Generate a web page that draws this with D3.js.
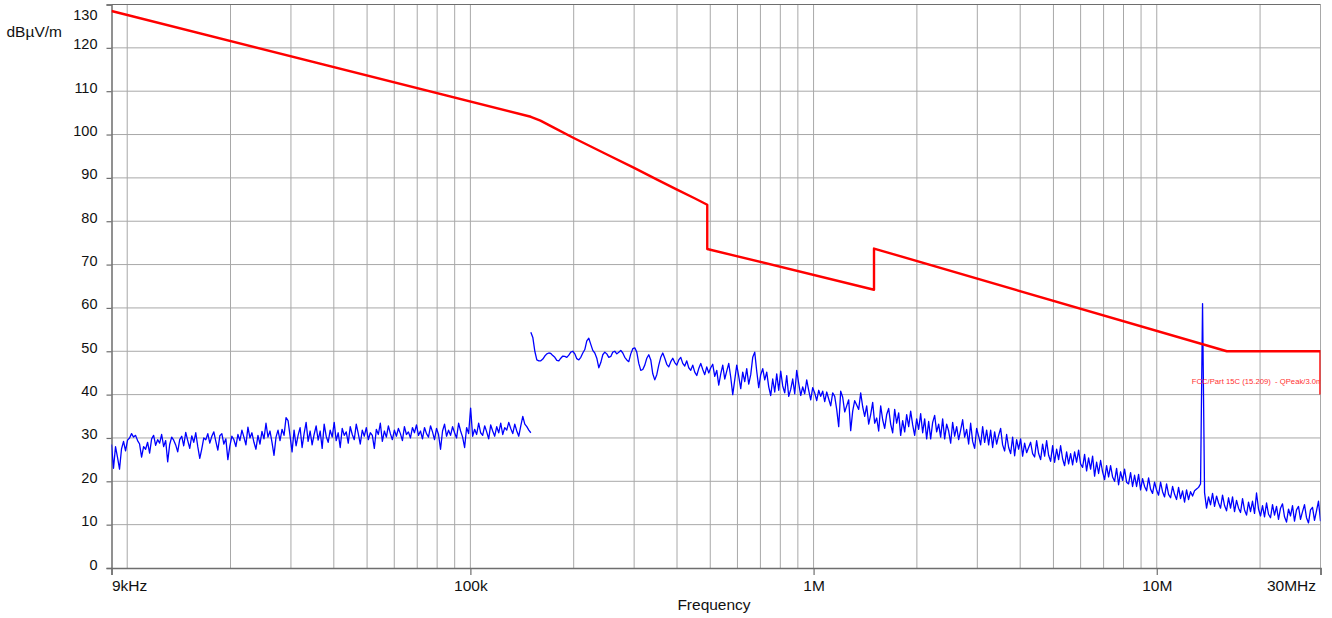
<!DOCTYPE html>
<html>
<head>
<meta charset="utf-8">
<script src="https://cdn.jsdelivr.net/npm/d3@7/dist/d3.min.js"></script>
<style>
  html, body { margin: 0; padding: 0; background: #ffffff; }
  svg { display: block; font-family: "Liberation Sans", Arial, sans-serif; }
</style>
</head>
<body>
<svg id="chart" width="1332" height="618"></svg>
<script>
// ---------------- DATA ----------------
const yTickValues = [0, 10, 20, 30, 40, 50, 60, 70, 80, 90, 100, 110, 120, 130];
const xTickValues = [9e3, 1e5, 1e6, 1e7, 3e7];
const xTickLabels = ["9kHz", "100k", "1M", "10M", "30MHz"];

// FCC Part 15.209 limit line (frequency in kHz, level in dBµV/m)
const limitFreqKHz = [9, 150, 160, 175, 200, 250, 300, 350, 400, 450, 490, 490, 1500, 1500, 16000, 30000, 30000];
const limitLevel   = [128.5, 104.1, 103.2, 101.6, 99.2, 95.4, 92.3, 89.6, 87.3, 85.3, 83.8, 73.6, 64.2, 73.7, 50, 50, 40];
const limitLabel = "FCC/Part 15C (15.209)  - QPeak/3.0m";

// Measured trace, sweep 1: 9 kHz .. 150 kHz (log-spaced sweep points)
const sweep1StartHz = 9e3, sweep1StopHz = 150e3;
const sweep1Level = [
  28.5, 23, 28, 25.5, 22.8, 27.5, 29.2, 27, 29.5, 30,
  31, 30.2, 30.6, 29.4, 28.6, 25.6, 28, 27.4, 29, 26.5,
  29.8, 30.6, 28.3, 29.6, 28.8, 30.8, 28, 29.4, 24.5, 28.5,
  30.2, 29.5, 28.4, 26.8, 29.6, 30.4, 28.2, 31.3, 29.4, 27.6,
  30.5, 29, 31.2, 28, 25.3, 27.5, 30, 29.6, 31, 28.8,
  30.4, 31.4, 29.2, 27.2, 30.5, 31, 28.6, 29.8, 25, 28.2,
  30.4, 29.6, 28, 30.8, 29.4, 31.8, 30.2, 28.4, 32.5, 30,
  31.2, 29, 27.4, 30.6, 28.6, 31.5, 29.8, 33.4, 30.2, 31.6,
  29, 26, 30.2, 31.8, 29.4, 32, 30.6, 34.7, 34, 30.5,
  26.8, 31.8, 28.2, 30.6, 32.4, 27.8, 31, 33.6, 29.2, 31.6,
  28.4, 30.8, 32.8, 29.5, 31.6, 27.6, 33.2, 30.4, 29, 31.8,
  30.2, 33.6, 29.4, 31.2, 27.8, 32.2, 30.6, 31.4, 28.8, 32.6,
  30.8, 29.6, 33.2, 31, 28.6, 31.8, 30.4, 32.4, 29.6, 31.2,
  30.6, 27.6, 32, 30.8, 33.4, 29.2, 31.6, 30.2, 32.8, 31,
  29.6, 31.8, 30.4, 32.2, 31, 29.4, 32.6, 30.8, 31.4, 30,
  32.4, 31.2, 33, 30.6, 31.6, 29.8, 32.4, 31, 30.2, 32.8,
  31.4, 29.6, 32.2, 30.8, 27.4, 31.6, 33.2, 30.4, 31.8, 30.6,
  32.6, 31.2, 30, 33.4, 31.6, 30.2, 27.8, 32.4, 31, 36.9,
  30.4, 32, 30.8, 33.4, 31.2, 30.6, 32.8, 31.4, 29.8, 33,
  31.6, 30.4, 32.6, 31.2, 33.4, 30.8, 32.4, 31.8, 33.6, 32.2,
  31, 33.2, 31.6, 30.4, 32.8, 35, 33.2, 32.6, 31.8, 31.2
];

// Measured trace, sweep 2: 150 kHz .. 30 MHz (log-spaced sweep points)
const sweep2StartHz = 150e3, sweep2StopHz = 30e6;
const sweep2Level = [
  54.4, 53.2, 50, 48, 47.8, 47.8, 48.2, 48.9, 49.4, 49.6,
  49.5, 49, 48.6, 47.9, 47.8, 48.4, 48.9, 48.8, 48.6, 49.1,
  49.8, 50, 49.4, 48.3, 48, 48.6, 49.6, 50.4, 52.4, 53,
  51.6, 50.2, 49.6, 48.4, 46.2, 47.4, 49.2, 49.8, 49.4, 48.6,
  48.8, 49.8, 50, 49.4, 49.8, 50.2, 49.6, 48.6, 48, 47.6,
  49.4, 50.6, 50.8, 49.8, 47.2, 45.6, 45.8, 46.8, 48.4, 49.2,
  48, 44.8, 43.4, 44.6, 46.8, 48.6, 49.6, 48.4, 47, 46.4,
  47.6, 48.4, 47.4, 46.8, 48, 48.6, 47.2, 46.6, 47.8, 46.2,
  45.6, 46.8, 45.2, 44.4, 46, 47.2, 45.8, 44.6, 46.4, 45,
  46.2, 47, 44.2, 45.6, 42.2, 44.8, 46.8, 43.6, 45.4, 47.2,
  44, 40, 43.4, 46.8, 44.2, 41.4, 45.2, 43, 46, 42.4,
  44.6, 48.6, 49.8, 45.4, 41.6, 44.6, 46, 43.4, 45.2, 41.8,
  39.8, 43.6, 40.6, 44.8, 41, 45.4, 42, 40.4, 44.4, 39.6,
  41.2, 43.6, 40.2, 45.6, 42.6, 39.8, 41.8, 40.2, 43.4, 41,
  38.8, 41.6, 40.4, 38.6, 41, 39.6, 40.8, 38.4, 40.6, 39,
  37.4, 40.4, 39.6, 36.6, 32.6, 40.8, 39.4, 36, 37.4, 38.8,
  31.7, 36.2, 38.6, 37.6, 36.6, 40.4, 37.2, 35, 37.4, 33.2,
  35.4, 38.2, 33.4, 34.6, 31.6, 37.4, 34.2, 32.2, 35.4, 36.8,
  33.2, 31.2, 36.6, 33.4, 35.8, 30.6, 34, 31.4, 35.4, 32.6,
  36.2, 33, 30.6, 34.4, 32, 35.6, 31.2, 34.4, 29.8, 33.8,
  29.8, 33.6, 35.2, 31.4, 33.2, 30.2, 34.4, 29.8, 33.2, 31.6,
  28.8, 33.6, 30.4, 32.6, 29.6, 31.8, 34.2, 30.2, 32, 28.6,
  33.4, 29.2, 27.6, 32.2, 30.4, 28.4, 32.6, 29, 31.8, 28.4,
  31.8, 27.8, 31.4, 28.6, 30.6, 32.2, 28.4, 27, 30.8, 27.8,
  26.4, 30.2, 25.9, 29.6, 27.4, 29.8, 25.8, 28.8, 26.6, 27.8,
  29, 26.4, 25.6, 29.4, 26.4, 25, 28.6, 25.8, 29.4, 26,
  24.6, 28.2, 24.4, 27.4, 25, 28.2, 25.2, 23.6, 26.8, 24,
  26.4, 23.8, 26.8, 24.4, 27.2, 24, 23.2, 26.2, 22.4, 25.4,
  22.8, 25.8, 21.2, 24.4, 21.8, 24.8, 22.2, 20.4, 23.6, 21,
  23.6, 21, 20, 23, 19.2, 22.2, 20.2, 22.8, 19.8, 19.4,
  22, 18.8, 21.4, 18.8, 21.6, 18, 20.6, 18.8, 17.8, 20.8,
  18.2, 17.2, 19.8, 18, 16.8, 19.8, 17.6, 16.4, 19.4, 17,
  16.2, 18.8, 17, 15.8, 18.6, 16, 17.8, 15.2, 18, 15.8,
  17.6, 16.6, 17.8, 18.2, 18.6, 19.4, 61, 17.4, 13.8, 16.4,
  14.6, 17.2, 14.2, 16.6, 15, 13.8, 16.8, 14.4, 13.2, 16.2,
  13.8, 16.4, 13, 15.6, 13.8, 12.8, 16, 13.4, 12.2, 15.2,
  13, 15.4, 12.6, 17.3, 13.6, 12, 14.4, 11.8, 15, 12.4,
  11.6, 14.6, 12.2, 14.2, 11.2, 13.8, 14.8, 11.8, 10.6, 13.6,
  12, 14.4, 10.8, 13.4, 14.2, 11.2, 13, 14.6, 11.6, 10.4,
  13.4, 14, 11, 13.2, 15.4, 10.8
];

// ---------------- CHART ----------------
const svg = d3.select("#chart");
const plot = { left: 111.5, right: 1320.5, top: 4.5, bottom: 568 };

const x = d3.scaleLog().domain([9e3, 30e6]).range([plot.left, plot.right]);
const y = d3.scaleLinear().domain([0, 130]).range([plot.bottom, plot.top]);

const gridColor = "#a8a8a8";
const axisColor = "#6e6e6e";

svg.append("defs").append("clipPath").attr("id", "plotClip")
  .append("rect")
  .attr("x", plot.left).attr("y", plot.top - 2)
  .attr("width", plot.right - plot.left).attr("height", plot.bottom - plot.top + 4);

// Vertical grid (1..9 per decade)
svg.append("g").selectAll("line")
  .data(x.ticks().filter(d => d > 9e3))
  .join("line")
  .attr("x1", d => x(d)).attr("x2", d => x(d))
  .attr("y1", plot.top).attr("y2", plot.bottom)
  .attr("stroke", gridColor).attr("stroke-width", 1);

// Horizontal grid
svg.append("g").selectAll("line")
  .data(yTickValues.filter(d => d > 0 && d < 130))
  .join("line")
  .attr("x1", plot.left).attr("x2", plot.right)
  .attr("y1", d => y(d)).attr("y2", d => y(d))
  .attr("stroke", gridColor).attr("stroke-width", 1);

// top frame
svg.append("line")
  .attr("x1", plot.left).attr("x2", plot.right)
  .attr("y1", plot.top).attr("y2", plot.top)
  .attr("stroke", axisColor).attr("stroke-width", 1.2);

// Y axis
const yAxis = d3.axisLeft(y).tickValues(yTickValues).tickSize(5).tickPadding(9);
const gy = svg.append("g").attr("transform", `translate(${plot.left},0)`).call(yAxis);
gy.select(".domain").attr("stroke", axisColor).attr("stroke-width", 1.5);
gy.selectAll(".tick line").attr("stroke", axisColor).attr("stroke-width", 1.2);
gy.selectAll(".tick text")
  .attr("font-size", 14.5).attr("fill", "#111")
  .attr("font-family", "'Liberation Sans', Arial, sans-serif")
  .attr("dy", d => d === 130 ? "15" : "1");

// X axis
const xAxis = d3.axisBottom(x).tickValues(xTickValues)
  .tickFormat((d, i) => xTickLabels[i]).tickSize(7).tickPadding(5);
const gx = svg.append("g").attr("transform", `translate(0,${plot.bottom})`).call(xAxis);
gx.select(".domain").attr("stroke", axisColor).attr("stroke-width", 1.5);
gx.selectAll(".tick line").attr("stroke", axisColor).attr("stroke-width", 1.2);
gx.selectAll(".tick text")
  .attr("font-size", 15.5).attr("fill", "#111")
  .attr("font-family", "'Liberation Sans', Arial, sans-serif")
  .attr("text-anchor", (d, i) => i === 0 ? "start" : (i === xTickValues.length - 1 ? "end" : "middle"))
  .attr("dx", (d, i) => i === xTickValues.length - 1 ? -5 : 0);

// Axis titles
svg.append("text").attr("x", 6.5).attr("y", 37)
  .attr("font-size", 15.5).attr("fill", "#111").text("dBµV/m");
svg.append("text").attr("x", (plot.left + plot.right) / 2 - 2).attr("y", 610)
  .attr("text-anchor", "middle").attr("font-size", 15.5).attr("fill", "#111").text("Frequency");

const g = svg.append("g").attr("clip-path", "url(#plotClip)");

// measured traces
const sweepPoints = (start, stop, levels) => {
  const n = levels.length;
  const r = Math.log10(stop / start);
  return levels.map((v, i) => [start * Math.pow(10, r * i / (n - 1)), v]);
};
const traceLine = d3.line().x(d => x(d[0])).y(d => y(d[1]));

[sweepPoints(sweep1StartHz, sweep1StopHz, sweep1Level),
 sweepPoints(sweep2StartHz, sweep2StopHz, sweep2Level)].forEach(pts => {
  g.append("path").datum(pts)
    .attr("d", traceLine)
    .attr("fill", "none").attr("stroke", "#0000ff")
    .attr("stroke-width", 1.3).attr("stroke-linejoin", "round");
});

// limit line
const limitPts = limitFreqKHz.map((f, i) => [f * 1e3, limitLevel[i]]);
g.append("path").datum(limitPts)
  .attr("d", traceLine)
  .attr("fill", "none").attr("stroke", "#ff0000")
  .attr("stroke-width", 2.4).attr("stroke-linejoin", "round");

// limit label
g.append("text")
  .attr("x", plot.right + 2).attr("y", 384)
  .attr("text-anchor", "end").attr("font-size", 7.7)
  .attr("fill", "#ff3030").attr("xml:space", "preserve")
  .style("white-space", "pre")
  .text(limitLabel);
</script>
</body>
</html>
